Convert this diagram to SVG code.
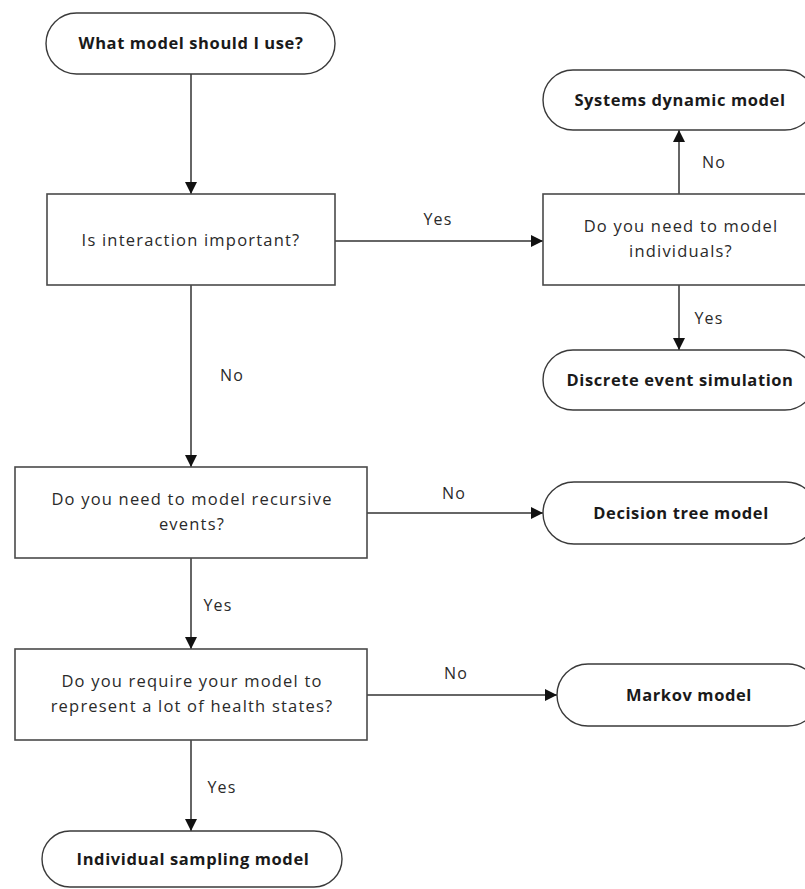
<svg xmlns="http://www.w3.org/2000/svg" width="805" height="889" viewBox="0 0 805 889">
  <style>
    .box { fill: #ffffff; stroke: #4a4a4a; stroke-width: 1.6; }
    .term { fill: #ffffff; stroke: #3a3a3a; stroke-width: 1.4; }
    .q { font-family: "Open Sans", "Liberation Sans", sans-serif; font-size: 16.5px; letter-spacing: 1.2px; fill: #2a2a2a; text-anchor: middle; }
    .t { font-family: "Open Sans", "Liberation Sans", sans-serif; font-size: 16.5px; letter-spacing: 0.6px; font-weight: bold; fill: #1a1a1a; text-anchor: middle; }
    .lbl { font-family: "Open Sans", "Liberation Sans", sans-serif; font-size: 16px; letter-spacing: 1.2px; fill: #2a2a2a; text-anchor: middle; }
    .edge { stroke: #333333; stroke-width: 1.5; fill: none; marker-end: url(#arrow); }
  </style>
  <defs>
    <marker id="arrow" viewBox="0 0 12 12" refX="12" refY="6" markerWidth="12" markerHeight="12" markerUnits="userSpaceOnUse" orient="auto">
      <path d="M0,0 L12,6 L0,12 Z" fill="#111111"/>
    </marker>
  </defs>
  <rect width="805" height="889" fill="#ffffff"/>

  <!-- connectors -->
  <g id="connectors">
    <path class="edge" d="M191,74 L191,194"/>
    <path class="edge" d="M335,241 L543,241"/>
    <path class="edge" d="M679,194 L679,130"/>
    <path class="edge" d="M679,285 L679,350"/>
    <path class="edge" d="M191,285 L191,467"/>
    <path class="edge" d="M367,513 L543,513"/>
    <path class="edge" d="M191,558 L191,649"/>
    <path class="edge" d="M367,695 L557,695"/>
    <path class="edge" d="M191,740 L191,831"/>
    <text class="lbl" x="438" y="225">Yes</text>
    <text class="lbl" x="714" y="168">No</text>
    <text class="lbl" x="709" y="324">Yes</text>
    <text class="lbl" x="232" y="381">No</text>
    <text class="lbl" x="454" y="499">No</text>
    <text class="lbl" x="218" y="611">Yes</text>
    <text class="lbl" x="456" y="679">No</text>
    <text class="lbl" x="222" y="793">Yes</text>
  </g>

  <g id="start">
    <rect class="term" x="46" y="13" width="289" height="61" rx="30.5"/>
    <text class="t" x="191" y="49">What model should I use?</text>
  </g>

  <g id="q-interaction">
    <rect class="box" x="47" y="194" width="288" height="91"/>
    <text class="q" x="191" y="246">Is interaction important?</text>
  </g>

  <g id="q-individuals">
    <rect class="box" x="543" y="194" width="273" height="91"/>
    <text class="q" x="681" y="232">Do you need to model</text>
    <text class="q" x="681" y="257">individuals?</text>
  </g>

  <g id="systems-dynamic">
    <rect class="term" x="543" y="70" width="272" height="60" rx="30"/>
    <text class="t" x="680" y="106">Systems dynamic model</text>
  </g>

  <g id="discrete-event">
    <rect class="term" x="543" y="350" width="272" height="60" rx="30"/>
    <text class="t" x="680" y="386">Discrete event simulation</text>
  </g>

  <g id="q-recursive">
    <rect class="box" x="15" y="467" width="352" height="91"/>
    <text class="q" x="192" y="505">Do you need to model recursive</text>
    <text class="q" x="192" y="530">events?</text>
  </g>

  <g id="decision-tree">
    <rect class="term" x="543" y="482" width="274" height="62" rx="31"/>
    <text class="t" x="681" y="519">Decision tree model</text>
  </g>

  <g id="q-health-states">
    <rect class="box" x="15" y="649" width="352" height="91"/>
    <text class="q" x="192" y="687">Do you require your model to</text>
    <text class="q" x="192" y="712">represent a lot of health states?</text>
  </g>

  <g id="markov">
    <rect class="term" x="557" y="664" width="262" height="62" rx="31"/>
    <text class="t" x="689" y="701">Markov model</text>
  </g>

  <g id="individual-sampling">
    <rect class="term" x="42" y="831" width="300" height="56" rx="28"/>
    <text class="t" x="193" y="865">Individual sampling model</text>
  </g>
</svg>
